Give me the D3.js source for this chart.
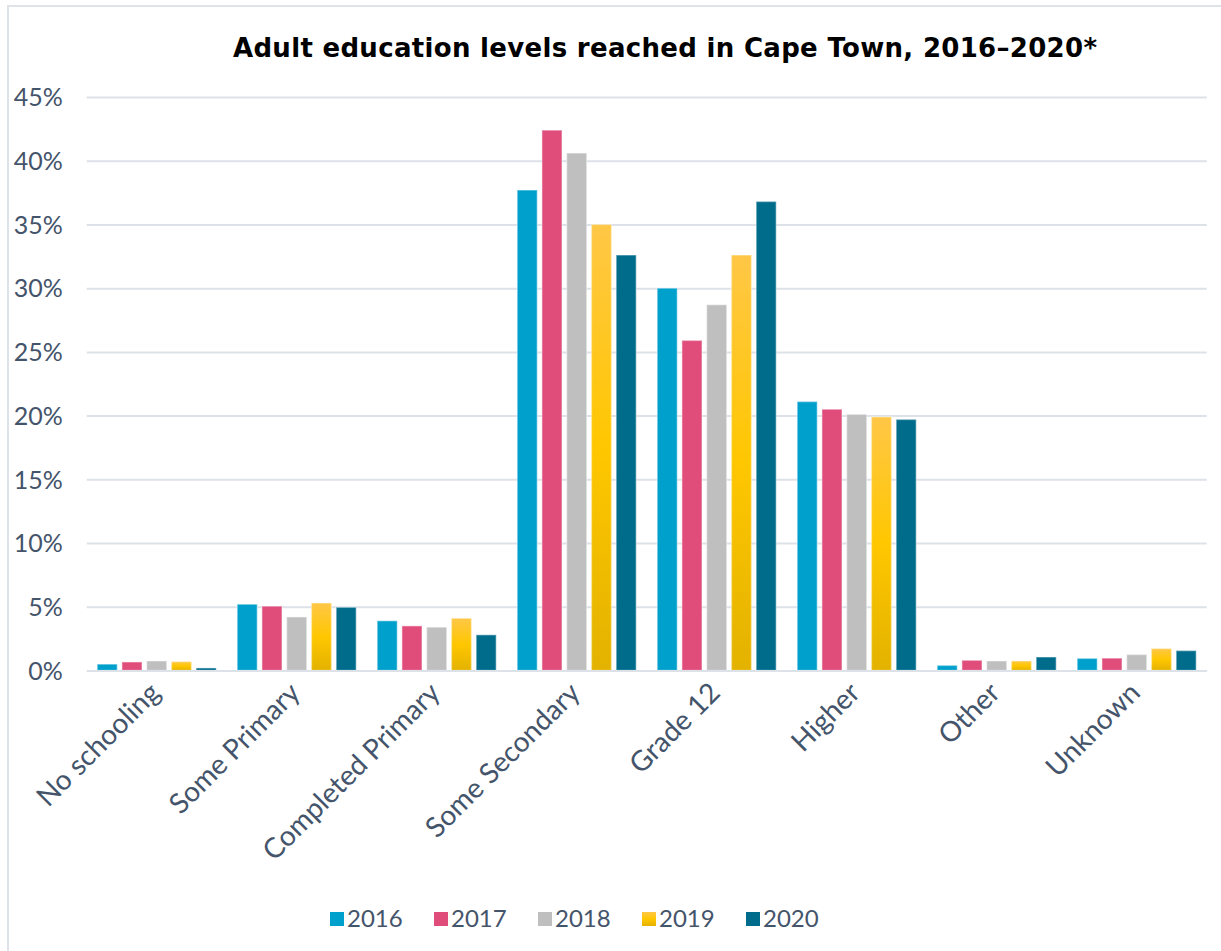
<!DOCTYPE html>
<html>
<head>
<meta charset="utf-8">
<script src="https://cdn.jsdelivr.net/npm/d3@7"></script>
<style>
  html, body { margin: 0; padding: 0; background: #fff; }
  svg { display: block; }
</style>
</head>
<body>
<div id="chart"></div>
<script>
// Adult education levels, share of adults by level and year
const categories = ["No schooling", "Some Primary", "Completed Primary", "Some Secondary", "Grade 12", "Higher", "Other", "Unknown"];
const years = ["2016", "2017", "2018", "2019", "2020"];
const values2016 = [0.5, 5.2, 3.9, 37.7, 30.0, 21.1, 0.4, 0.95];
const values2017 = [0.67, 5.05, 3.5, 42.4, 25.9, 20.5, 0.8, 0.97];
const values2018 = [0.75, 4.2, 3.4, 40.6, 28.7, 20.1, 0.75, 1.25];
const values2019 = [0.7, 5.3, 4.1, 35.0, 32.6, 19.9, 0.75, 1.72];
const values2020 = [0.2, 4.96, 2.8, 32.6, 36.8, 19.7, 1.06, 1.56];
const yTicks = [0, 5, 10, 15, 20, 25, 30, 35, 40, 45];
const title = "Adult education levels reached in Cape Town, 2016\u20132020*";

const seriesValues = [values2016, values2017, values2018, values2019, values2020];
const colors = ["#00A0CD", "#E04D7B", "#BFBFBF", "url(#gold)", "#006C8B"];

const W = 1221, H = 951;
const textColor = "#44546A";
const fontFamily = "'Century Gothic', 'Lato', 'Noto Sans', sans-serif";
const titleFont = "'Century Gothic', 'DejaVu Sans', sans-serif";

const svg = d3.select("#chart").append("svg")
  .attr("width", W).attr("height", H);

const defs = svg.append("defs");
const grad = defs.append("linearGradient").attr("id", "gold")
  .attr("x1", 0).attr("y1", 0).attr("x2", 0).attr("y2", 1);
grad.append("stop").attr("offset", "0%").attr("stop-color", "#FFC746");
grad.append("stop").attr("offset", "50%").attr("stop-color", "#FFC700");
grad.append("stop").attr("offset", "100%").attr("stop-color", "#E3B200");

// chart frame
svg.append("rect")
  .attr("x", 8).attr("y", 6).attr("width", W + 10).attr("height", H + 10)
  .attr("fill", "#fff").attr("stroke", "#DEE3EA").attr("stroke-width", 2);

const plot = { left: 86.7, right: 1206.7, top: 97, bottom: 670.5 };

const x = d3.scaleBand().domain(categories)
  .range([plot.left, plot.right]).paddingInner(0.15).paddingOuter(0.075);
const xs = d3.scaleBand().domain(years)
  .range([0, x.bandwidth()]).paddingInner(0.19).paddingOuter(0);
const y = d3.scaleLinear().domain([0, 45]).range([plot.bottom, plot.top]);

// gridlines and percentage labels
const yAxis = d3.axisLeft(y).tickValues(yTicks)
  .tickSize(-(plot.right - plot.left)).tickPadding(25)
  .tickFormat(d => d + "%");
const gy = svg.append("g").attr("transform", `translate(${plot.left},0)`).call(yAxis);
gy.select(".domain").remove();
gy.selectAll(".tick line").attr("stroke", "#DDE2E9").attr("stroke-width", 2);
gy.selectAll(".tick text")
  .attr("fill", textColor).attr("font-family", fontFamily)
  .attr("font-size", 25).attr("x", -24).attr("dy", "0.35em");

// bars, one group per year
const groups = svg.append("g").selectAll("g")
  .data(years).join("g")
  .attr("transform", d => `translate(${xs(d)},0)`);

groups.each(function (yr, si) {
  d3.select(this).selectAll("rect")
    .data(categories.map((c, i) => ({ c, v: seriesValues[si][i] })))
    .join("rect")
    .attr("x", d => x(d.c))
    .attr("y", d => y(d.v))
    .attr("width", xs.bandwidth())
    .attr("height", d => y(0) - y(d.v))
    .attr("fill", colors[si])
    .attr("stroke", "#fff").attr("stroke-opacity", 0.35).attr("stroke-width", 1.5);
});

// category axis with slanted labels
const xAxis = d3.axisBottom(x).tickSize(0).tickPadding(0);
const gx = svg.append("g").attr("transform", `translate(0,${plot.bottom})`).call(xAxis);
gx.select(".domain").attr("stroke", "#DDE2E9").attr("stroke-width", 2);
gx.selectAll(".tick text")
  .attr("fill", textColor).attr("font-family", fontFamily).attr("font-size", 28)
  .attr("text-anchor", "end")
  .attr("dy", 0).attr("y", 0)
  .attr("transform", "translate(5,24) rotate(-45)");

// title
svg.append("text")
  .attr("x", 665).attr("y", 57)
  .attr("text-anchor", "middle")
  .attr("font-family", titleFont).attr("font-weight", "bold")
  .attr("font-size", 26).attr("fill", "#000")
  .attr("textLength", 864).attr("lengthAdjust", "spacing")
  .text(title);

// legend
const legend = svg.append("g").attr("transform", "translate(330,912)");
const li = legend.selectAll("g").data(years).join("g")
  .attr("transform", (d, i) => `translate(${i * 104},0)`);
li.append("rect").attr("width", 14).attr("height", 14)
  .attr("fill", (d, i) => colors[i]);
li.append("text").attr("x", 17).attr("y", 15)
  .attr("font-family", fontFamily).attr("font-size", 24).attr("fill", textColor)
  .text(d => d);
</script>
</body>
</html>
